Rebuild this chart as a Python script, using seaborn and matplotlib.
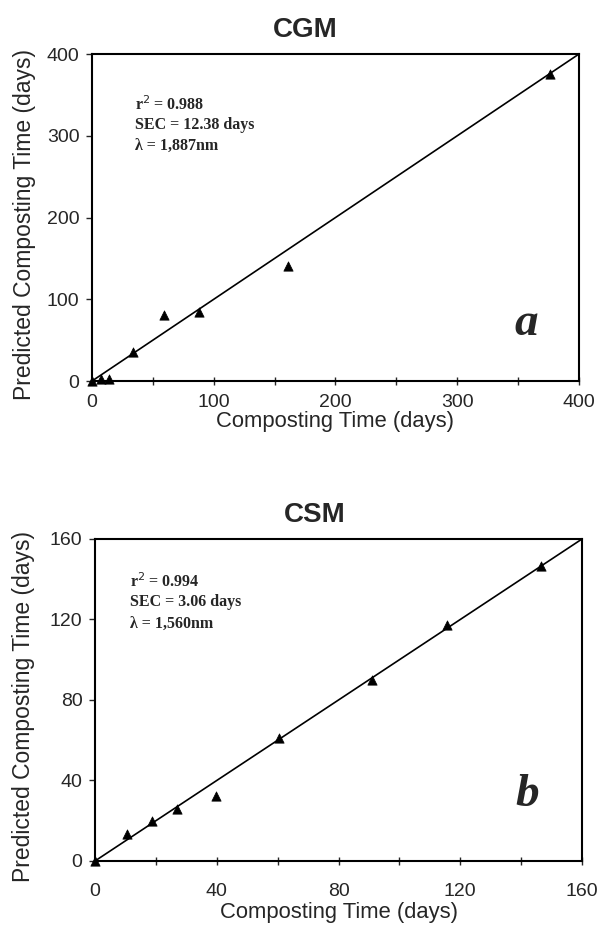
import numpy as np
import pandas as pd
import matplotlib.pyplot as plt
import seaborn as sns
from matplotlib.ticker import MultipleLocator

sns.set_style("ticks")
plt.rcParams['font.family'] = ['Liberation Sans', 'DejaVu Sans']

# CGM panel (a)
cgm_actual = [0, 7, 14, 34, 59, 88, 161, 376]
cgm_pred = [0, 3, 3, 36, 81, 85, 141, 375]
# CSM panel (b)
csm_actual = [0, 10.5, 18.6, 26.8, 39.8, 60.3, 90.9, 115.8, 146.6]
csm_pred = [0, 13.3, 19.9, 26.0, 32.3, 60.9, 89.9, 117.3, 146.6]

cgm_stats = ["r$^{2}$ = 0.988", "SEC = 12.38 days", "\u03bb = 1,887nm"]
csm_stats = ["r$^{2}$ = 0.994", "SEC = 3.06 days", "\u03bb = 1,560nm"]

fig = plt.figure(figsize=(6.04, 9.33), dpi=100)
ax1 = fig.add_axes([0.1523, 0.5916, 0.8063, 0.3505])
ax2 = fig.add_axes([0.1573, 0.0772, 0.8063, 0.3451])

# ax, x, y, limit, major, minor, title, title x, stats, letter, stats pos, letter pos,
# x tick pad, xlabel pad, ylabel x
panels = [
    (ax1, cgm_actual, cgm_pred, 400, 100, 50, "CGM", 0.437, cgm_stats, "a",
     (35, 338, 25), (357, 70), 6, 0, -0.114),
    (ax2, csm_actual, csm_pred, 160, 40, 20, "CSM", 0.452, csm_stats, "b",
     (11.5, 139, 10.5), (142, 33), 13, 1, -0.124),
]

for (ax, xs, ys, lim, major, minor, title, tx_title, stats, letter, tpos, lpos,
     xpad, xlpad, ylx) in panels:
    df = pd.DataFrame({"x": xs, "y": ys})
    sns.lineplot(x=[0, lim], y=[0, lim], ax=ax, color="black", lw=1.2)
    sns.scatterplot(data=df, x="x", y="y", ax=ax, marker="^", color="black",
                    s=45, edgecolor="black", linewidth=0.5, zorder=3, clip_on=False)
    ax.set_xlim(0, lim)
    ax.set_ylim(0, lim)
    ax.xaxis.set_major_locator(MultipleLocator(major))
    ax.xaxis.set_minor_locator(MultipleLocator(minor))
    ax.yaxis.set_major_locator(MultipleLocator(major))
    ax.tick_params(axis="x", which="both", direction="inout", length=6, width=1)
    ax.tick_params(axis="y", which="major", direction="out", length=4, width=1)
    ax.tick_params(labelsize=14)
    ax.tick_params(axis="y", pad=5)
    ax.tick_params(axis="x", pad=xpad)
    for sp in ax.spines.values():
        sp.set_visible(True)
        sp.set_linewidth(1.5)
        sp.set_color("black")
    ax.set_xlabel("Composting Time (days)", fontsize=15.8, labelpad=xlpad)
    ax.set_ylabel("Predicted Composting Time (days)", fontsize=16.5)
    ax.yaxis.set_label_coords(ylx, 0.48)
    ax.set_title(title, fontsize=20, fontweight="bold", x=tx_title, pad=12)
    tx, ty, dy = tpos
    for i, s in enumerate(stats):
        ax.text(tx, ty - i * dy, s, fontsize=11.5, fontweight="bold",
                family=["Liberation Serif", "DejaVu Serif"], va="center", ha="left")
    ax.text(lpos[0], lpos[1], letter, fontsize=34, fontweight="bold", style="italic",
            family=["Liberation Serif", "DejaVu Serif"], ha="center", va="center")

fig.savefig("out.png", dpi=100)
